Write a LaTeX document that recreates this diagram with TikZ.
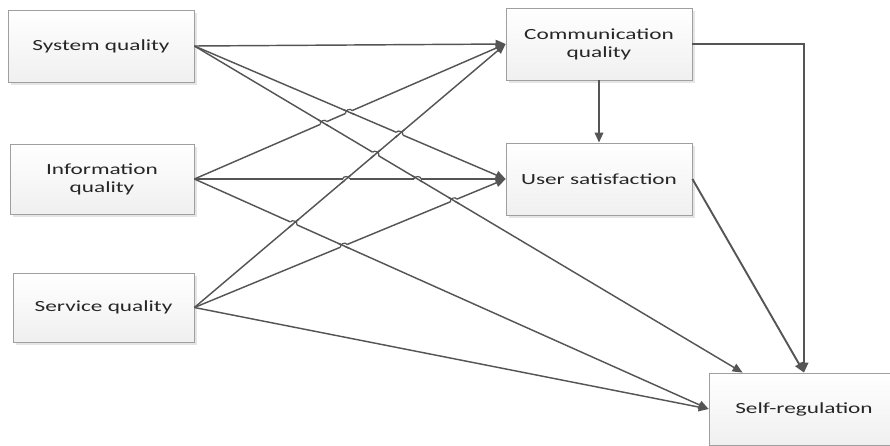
\documentclass[tikz,border=0pt]{standalone}
\usepackage{fontspec}
\setmainfont[FakeStretch=1.5]{Carlito}
\usetikzlibrary{arrows.meta,shadows,intersections,calc}
\definecolor{lncol}{HTML}{555555}
\definecolor{txtcol}{HTML}{262626}
\tikzset{
  box/.style={draw=gray!75, line width=0.8pt, top color=white, bottom color=gray!12,
    text=txtcol, align=center, inner sep=0pt, font=\fontsize{15.5}{18}\selectfont,
    drop shadow={shadow xshift=2.5pt, shadow yshift=-2.5pt, fill=gray!40, opacity=0.5}},
  conn/.style={draw=lncol, line width=1.45pt, -{Triangle[length=10pt,width=8.5pt]}},
  thick conn/.style={conn, line width=1.9pt},
  ln/.style={draw=lncol, line width=1.45pt}
}
\newcommand\hop[6]{%
  \path[name intersections={of=#1 and #2, by=hx}];
  \draw[white, line width=3.8pt] ($(hx)!3.5pt!(#3)$) -- ($(hx)!3.5pt!(#4)$);
  \draw[ln] ($(hx)!6pt!(#5)$) -- ($(hx)!6pt!(#6)$);
  \draw[ln, line width=1.2pt] ($(hx)!3.5pt!(#3)$) to[bend left=90, looseness=1.2] ($(hx)!3.5pt!(#4)$);
}
\begin{document}
\begin{tikzpicture}[x=1pt, y=-1pt]
\clip (0,0) rectangle (890,445);
\fill[white] (0,0) rectangle (890,445);

\node[box, minimum width=186pt, minimum height=72pt] (sys) at (101,46) {System quality};
\node[box, minimum width=184pt, minimum height=70pt] (info) at (102,179) {Information\\quality};
\node[box, minimum width=181pt, minimum height=69pt] (serv) at (103.5,307.5) {Service quality};
\node[box, minimum width=186pt, minimum height=72pt] (comm) at (599,44) {Communication\\quality};
\node[box, minimum width=186pt, minimum height=72pt] (user) at (599,179) {User satisfaction};
\node[box, minimum width=190pt, minimum height=72pt] (self) at (804,409) {Self-regulation};

\coordinate (selfA) at ($(self.north west)+(34,0)$);

\draw[conn, name path=S1] (sys.east) -- (comm.west);
\draw[conn, name path=S2] (sys.east) -- (user.west);
\draw[conn, name path=S3] (sys.east) -- (selfA);
\draw[conn, name path=I1] (info.east) -- (comm.west);
\draw[conn, name path=I2] (info.east) -- (user.west);
\draw[conn, name path=I3] (info.east) -- (self.west);
\draw[conn, name path=V1] (serv.east) -- (comm.west);
\draw[conn, name path=V2] (serv.east) -- (user.west);
\draw[conn] (serv.east) -- (self.west);
\draw[thick conn] (comm.south) -- (user.north);
\draw[thick conn] (comm.east) -| (self.north);
\draw[thick conn] (user.east) -- (self.north);

\hop{I1}{S2}{info.east}{comm.west}{sys.east}{user.west}
\hop{I1}{S3}{info.east}{comm.west}{sys.east}{selfA}
\hop{S2}{V1}{sys.east}{user.west}{serv.east}{comm.west}
\hop{S3}{V1}{sys.east}{selfA}{serv.east}{comm.west}
\hop{I2}{V1}{info.east}{user.west}{serv.east}{comm.west}
\hop{I2}{S3}{info.east}{user.west}{sys.east}{selfA}
\hop{I3}{V1}{info.east}{self.west}{serv.east}{comm.west}
\hop{V2}{I3}{serv.east}{user.west}{info.east}{self.west}
\hop{V2}{S3}{serv.east}{user.west}{sys.east}{selfA}
\end{tikzpicture}
\end{document}
